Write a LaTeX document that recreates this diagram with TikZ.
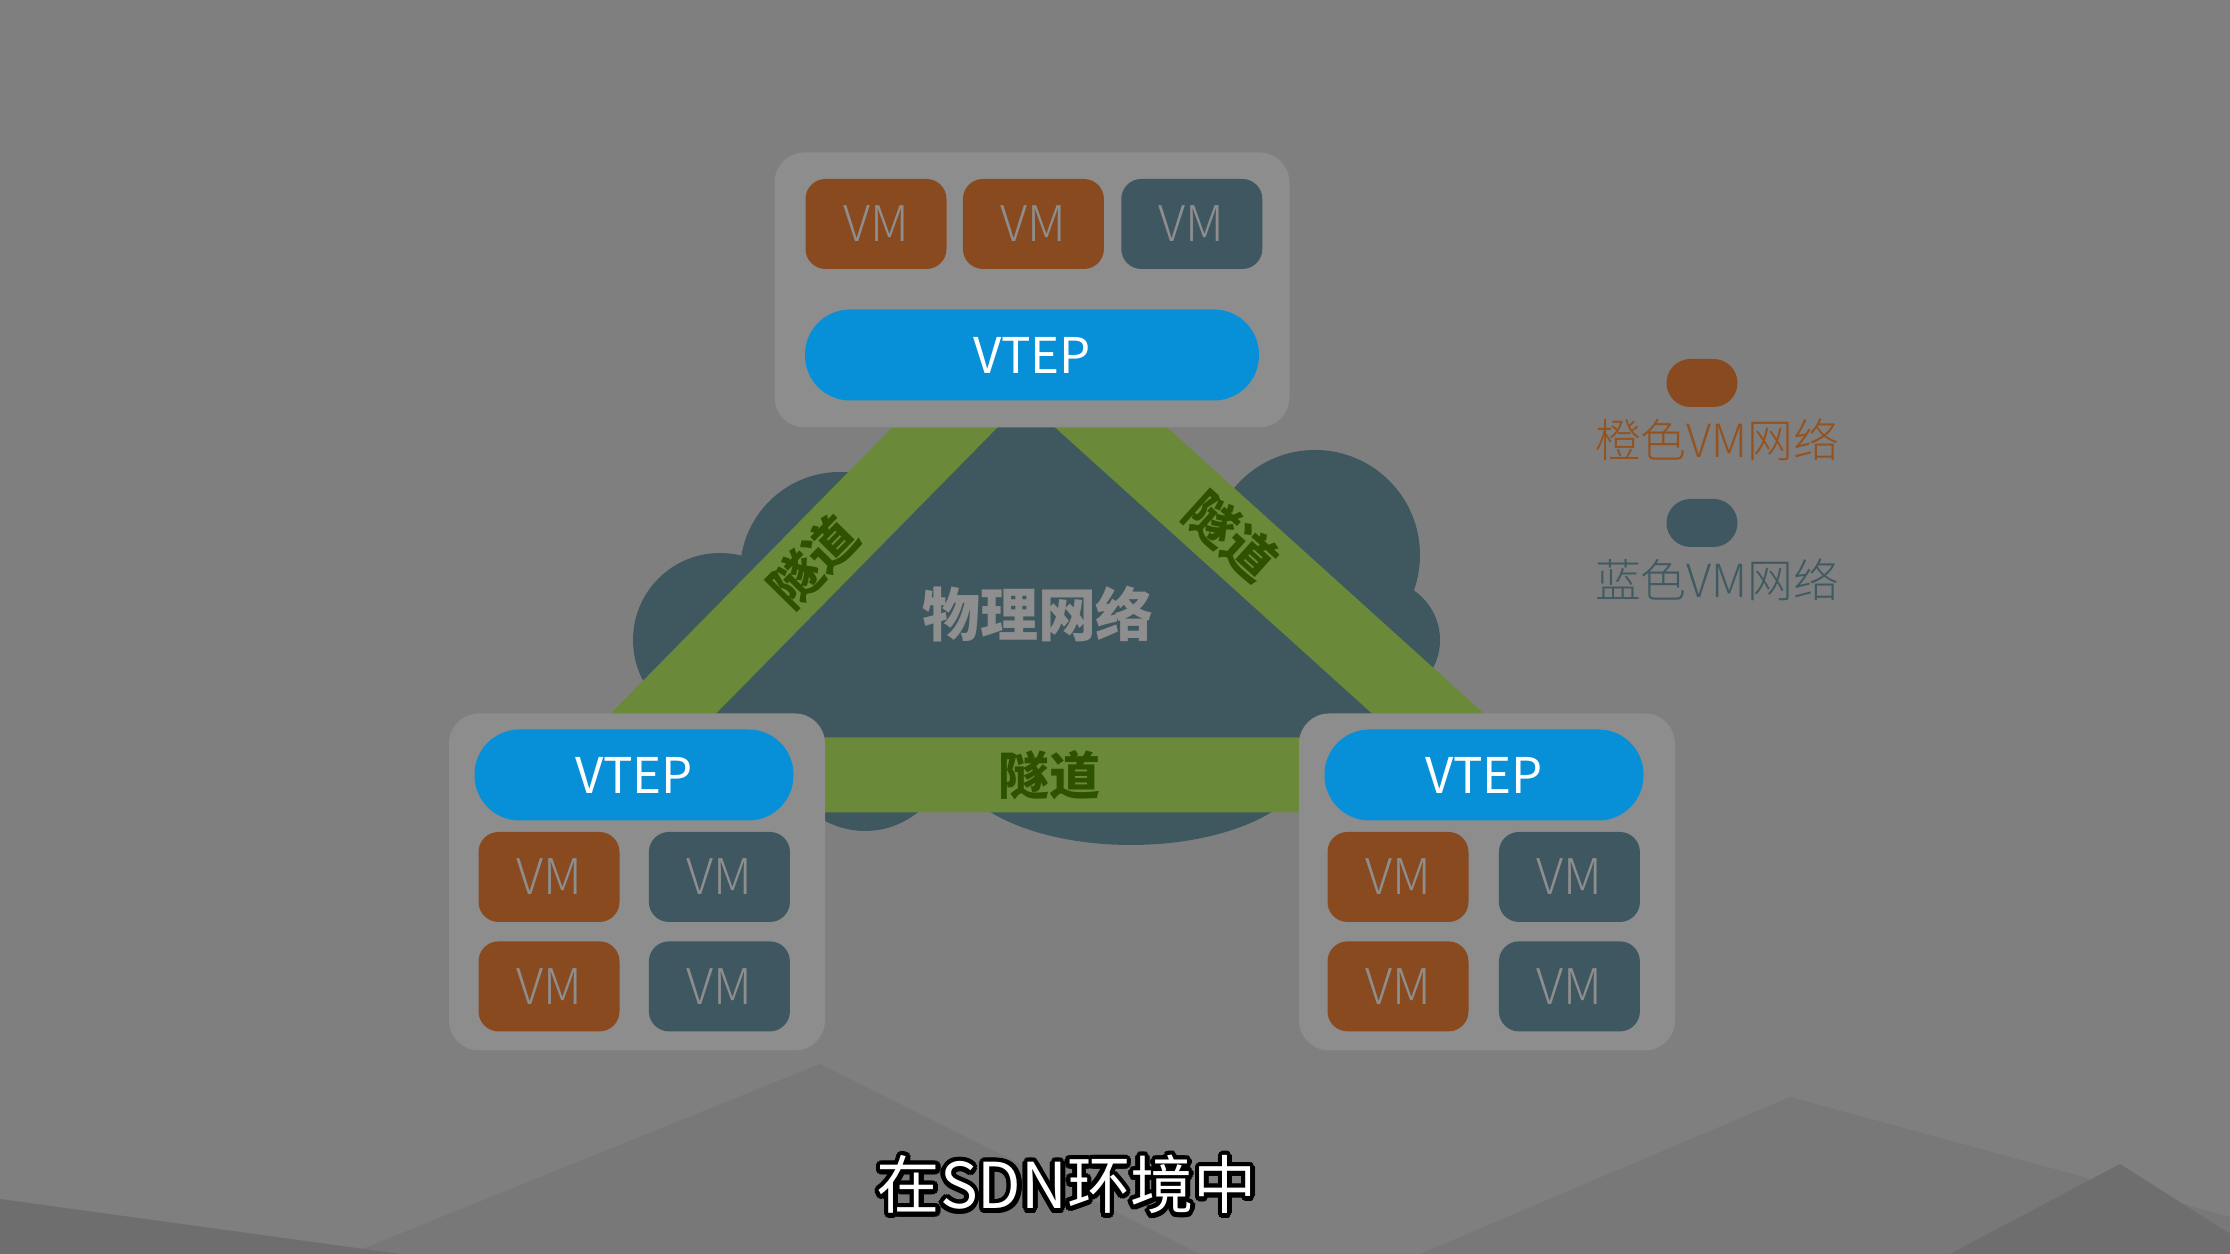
\documentclass[tikz,border=0pt]{standalone}
\usepackage{fontspec}
\setmainfont{Noto Sans CJK SC}
\newfontfamily\thinfont{Noto Sans CJK SC Light}
\usepackage{contour}
\contourlength{1.3pt}
\definecolor{bgGray}{HTML}{7F7F7F}
\definecolor{bgShade}{HTML}{787878}
\definecolor{bgDark}{HTML}{6E6E6E}
\definecolor{boxGray}{HTML}{8D8D8D}
\definecolor{labelGray}{HTML}{8E8E8E}
\definecolor{vmOrange}{HTML}{8A4A20}
\definecolor{vmTeal}{HTML}{3F5760}
\definecolor{vtepBlue}{HTML}{0790D8}
\definecolor{cloudTeal}{HTML}{3F5860}
\definecolor{tunnelGreen}{HTML}{6A8A3A}
\definecolor{tunnelText}{HTML}{2E5200}
\definecolor{legendOrange}{HTML}{94521F}
\definecolor{legendTeal}{HTML}{405A62}
\usetikzlibrary{positioning}

\begin{document}
\begin{tikzpicture}
    \tikzset{
        hostbox/.style={rectangle, fill=boxGray, rounded corners=0.3cm, inner sep=0pt},
        vmorange/.style={rectangle, fill=vmOrange, rounded corners=0.2cm, minimum width=1.41cm,
            minimum height=0.9cm, inner sep=0pt, text=labelGray, font=\thinfont\fontsize{14}{16}\selectfont},
        vmteal/.style={vmorange, fill=vmTeal},
        vtepbox/.style={rectangle, fill=vtepBlue, rounded corners=0.45cm, minimum height=0.91cm,
            inner sep=0pt, text=white, font=\fontsize{14}{16}\selectfont},
        tunnel/.style={draw=tunnelGreen, line width=0.75cm, line join=round},
        tunnellabel/.style={sloped, text=tunnelText, font=\bfseries\fontsize{14.5}{16}\selectfont},
        legendpill/.style={rectangle, rounded corners=0.24cm, minimum width=0.71cm, minimum height=0.48cm, inner sep=0pt},
    }
    \useasboundingbox (0,0) rectangle (22.30,12.54);

    % Background
    \fill[bgGray] (0,0) rectangle (22.30,12.54);
    \fill[bgShade] (3.5,0) -- (8.2,1.9) -- (12.0,0) -- cycle;
    \fill[bgShade] (14.2,0) -- (17.9,1.57) -- (22.30,0.37) -- (22.30,0) -- cycle;
    \fill[bgDark] (0,0) -- (0,0.55) -- (4.0,0) -- cycle;
    \fill[bgDark] (19.5,0) -- (21.2,0.9) -- (22.30,0.2) -- (22.30,0) -- cycle;

    % Tunnel ends
    \coordinate (hubT) at (10.23,9.06);
    \coordinate (hubL) at (6.03,4.79);
    \coordinate (hubR) at (14.96,4.79);

    % Physical network cloud
    \fill[cloudTeal] (7.20,6.14) circle (0.87) (8.40,6.82) circle (1.00)
        (13.15,6.99) circle (1.05) (13.80,6.14) circle (0.60)
        (11.31,4.94) ellipse (1.78 and 0.85) (8.65,5.07) circle (0.84) (12.90,5.74) circle (0.75)
        (10.40,6.14) ellipse (3.3 and 1.7);
    \fill[cloudTeal] (hubT) -- (hubL) -- (hubR) -- cycle;
    \node[text=labelGray, font=\bfseries\fontsize{16.5}{18}\selectfont] (phys) at (10.38,6.40) {物理网络};

    % Tunnels
    \draw[tunnel] (hubT) -- node[tunnellabel] {隧道} (hubL)
        -- node[tunnellabel] {隧道} (hubR)
        -- node[tunnellabel, pos=0.56] {隧道} cycle;

    % Top host
    \node[hostbox, minimum width=5.15cm, minimum height=2.75cm] (hostT) at (10.32,9.64) {};
    \node[vmorange] (vmT1) at (8.76,10.30) {VM};
    \node[vmorange, right=0.15cm of vmT1] (vmT2) {VM};
    \node[vmteal, right=0.16cm of vmT2] (vmT3) {VM};
    \node[vtepbox, minimum width=4.54cm] (vtepT) at (10.32,8.99) {VTEP};

    % Bottom left host
    \node[hostbox, minimum width=3.76cm, minimum height=3.37cm] (hostL) at (6.37,3.72) {};
    \node[vtepbox, minimum width=3.19cm] (vtepL) at (6.34,4.79) {VTEP};
    \node[vmorange] (vmL1) at (5.49,3.77) {VM};
    \node[vmteal, right=0.28cm of vmL1] (vmL2) {VM};
    \node[vmorange, below=0.18cm of vmL1] (vmL3) {VM};
    \node[vmteal, right=0.28cm of vmL3] (vmL4) {VM};

    % Bottom right host
    \node[hostbox, minimum width=3.76cm, minimum height=3.37cm] (hostR) at (14.87,3.72) {};
    \node[vtepbox, minimum width=3.19cm] (vtepR) at (14.84,4.79) {VTEP};
    \node[vmorange] (vmR1) at (13.98,3.77) {VM};
    \node[vmteal, right=0.29cm of vmR1] (vmR2) {VM};
    \node[vmorange, below=0.18cm of vmR1] (vmR3) {VM};
    \node[vmteal, right=0.29cm of vmR3] (vmR4) {VM};

    % Legend
    \node[legendpill, fill=vmOrange] (keyO) at (17.02,8.71) {};
    \node[text=legendOrange, font=\thinfont\fontsize{13}{15}\selectfont] (keyOtext) at (17.17,8.14) {橙色VM网络};
    \node[legendpill, fill=vmTeal] (keyT) at (17.02,7.31) {};
    \node[text=legendTeal, font=\thinfont\fontsize{13}{15}\selectfont] (keyTtext) at (17.17,6.74) {蓝色VM网络};

    % Subtitle
    \node[font=\fontsize{18}{21}\selectfont] (caption) at (10.67,0.67) {\contour{black}{\textcolor{white}{在SDN环境中}}};
\end{tikzpicture}
\end{document}
